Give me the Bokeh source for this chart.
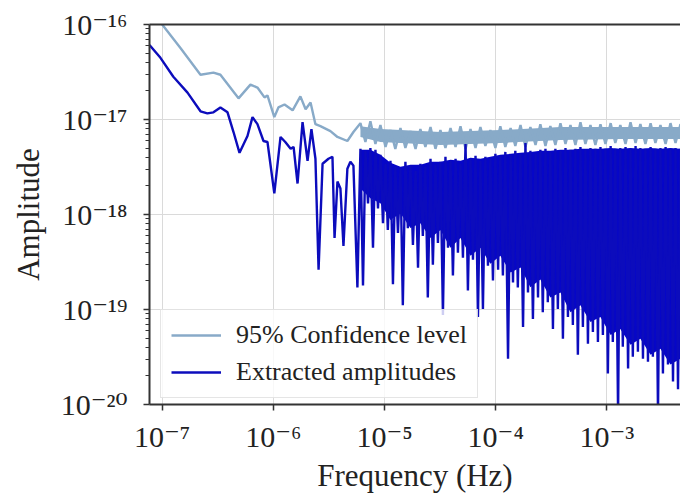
from bokeh.plotting import figure
from bokeh.models import Range1d, FixedTicker, LogAxis, CustomJSTickFormatter, Legend, LegendItem
from bokeh.embed import file_html
from bokeh.resources import INLINE

# ---------------- data ----------------
# 95% confidence level (Hz, amplitude)
CONF_FREQ = [7.69e-8, 1.0e-7, 1.46e-7, 2.21e-7, 2.89e-7, 3.34e-7, 4.86e-7, 6.22e-7, 7.19e-7, 8.32e-7,
             8.85e-7, 1.02e-6, 1.11e-6, 1.26e-6, 1.49e-6, 1.75e-6, 1.95e-6, 2.16e-6, 2.39e-6, 2.65e-6,
             3.26e-6, 3.77e-6, 4.63e-6, 5.25e-6,
             6.07e-6, 6.73e-6, 7.46e-6, 8.28e-6, 9.18e-6, 1.02e-5, 1.13e-5, 1.25e-5, 1.39e-5, 1.54e-5,
             1.71e-5, 1.90e-5, 2.10e-5, 2.33e-5, 2.59e-5, 2.87e-5, 3.18e-5, 3.53e-5, 3.92e-5, 4.35e-5,
             4.82e-5, 5.35e-5, 5.93e-5, 6.58e-5, 7.28e-5, 8.07e-5, 8.95e-5, 9.93e-5, 1.10e-4, 1.22e-4,
             1.36e-4, 1.50e-4, 1.67e-4, 1.85e-4, 2.05e-4, 2.28e-4, 2.52e-4, 2.80e-4, 3.10e-4, 3.44e-4,
             3.82e-4, 4.24e-4, 4.70e-4, 5.21e-4, 5.78e-4, 6.41e-4, 7.11e-4, 7.88e-4, 8.75e-4, 9.70e-4,
             1.08e-3, 1.19e-3, 1.32e-3, 1.47e-3, 1.63e-3, 1.81e-3, 2.00e-3, 2.22e-3, 2.47e-3, 2.73e-3,
             3.03e-3, 3.37e-3, 3.73e-3, 4.14e-3, 4.59e-3, 4.83e-3]
CONF_AMP = [1.50e-16, 1.0e-16, 5.66e-17, 2.96e-17, 3.11e-17, 2.96e-17, 1.67e-17, 2.33e-17, 2.17e-17, 1.71e-17,
            1.79e-17, 1.06e-17, 1.34e-17, 1.44e-17, 1.25e-17, 1.75e-17, 1.28e-17, 1.51e-17, 8.93e-18, 8.51e-18,
            7.55e-18, 6.55e-18, 5.94e-18, 7.38e-18,
            9.15e-18, 5.80e-18, 9.60e-18, 5.53e-18, 8.73e-18, 5.14e-18, 7.74e-18, 4.91e-18, 8.11e-18, 5.02e-18,
            7.55e-18, 4.91e-18, 7.93e-18, 5.14e-18, 8.32e-18, 4.91e-18, 7.74e-18, 5.02e-18, 8.11e-18, 5.14e-18,
            8.51e-18, 4.91e-18, 7.93e-18, 5.02e-18, 8.32e-18, 5.27e-18, 7.74e-18, 5.02e-18, 8.51e-18, 5.14e-18,
            8.11e-18, 5.27e-18, 8.73e-18, 5.14e-18, 8.32e-18, 5.40e-18, 8.93e-18, 5.27e-18, 8.51e-18, 5.40e-18,
            9.15e-18, 5.53e-18, 8.73e-18, 5.40e-18, 9.37e-18, 5.53e-18, 8.73e-18, 5.40e-18, 8.93e-18, 5.53e-18,
            9.15e-18, 5.66e-18, 8.73e-18, 5.53e-18, 9.37e-18, 5.66e-18, 8.93e-18, 5.53e-18, 9.15e-18, 5.66e-18,
            8.73e-18, 5.53e-18, 9.15e-18, 5.66e-18, 8.93e-18, 5.80e-18]
# dense part of the confidence band (lower / upper edge of the solid band)
CONF_BAND_FREQ = [6.07e-6, 9.18e-6, 3.18e-5, 1.10e-4, 3.82e-4, 1.32e-3, 4.83e-3]
CONF_BAND_LO = [6.55e-18, 5.80e-18, 5.40e-18, 5.66e-18, 6.09e-18, 6.24e-18, 6.24e-18]
CONF_BAND_HI = [8.51e-18, 7.93e-18, 7.38e-18, 7.74e-18, 8.32e-18, 8.32e-18, 8.32e-18]

# Extracted amplitudes (Hz, amplitude)
EXTR_FREQ = [7.69e-8, 9.65e-8, 1.26e-7, 1.69e-7, 2.21e-7, 2.55e-7, 2.89e-7, 3.34e-7, 3.87e-7, 4.38e-7,
             4.96e-7, 5.85e-7, 6.49e-7, 7.19e-7, 8.15e-7, 8.85e-7, 1.02e-6, 1.16e-6, 1.28e-6, 1.43e-6,
             1.52e-6, 1.65e-6, 1.83e-6, 2.03e-6, 2.20e-6, 2.39e-6, 2.55e-6, 2.77e-6, 3.13e-6, 3.40e-6,
             3.55e-6, 3.77e-6, 4.01e-6, 4.27e-6, 4.63e-6, 4.93e-6, 5.25e-6, 5.70e-6,
             6.07e-6, 6.40e-6, 6.73e-6, 7.10e-6, 7.46e-6, 7.87e-6, 8.28e-6, 8.73e-6, 9.18e-6, 9.68e-6,
             1.02e-5, 1.07e-5, 1.13e-5, 1.19e-5, 1.25e-5, 1.32e-5, 1.39e-5, 1.46e-5, 1.54e-5, 1.62e-5,
             1.71e-5, 1.80e-5, 1.90e-5, 2.00e-5, 2.10e-5, 2.21e-5, 2.33e-5, 2.45e-5, 2.59e-5, 2.72e-5,
             2.87e-5, 3.02e-5, 3.18e-5, 3.35e-5, 3.53e-5, 3.72e-5, 3.92e-5, 4.12e-5, 4.35e-5, 4.57e-5,
             4.82e-5, 5.07e-5, 5.35e-5, 5.62e-5, 5.93e-5, 6.24e-5, 6.58e-5, 6.92e-5, 7.28e-5, 7.67e-5,
             8.07e-5, 8.51e-5, 8.95e-5, 9.44e-5, 9.93e-5, 1.05e-4, 1.10e-4, 1.16e-4, 1.22e-4, 1.29e-4,
             1.36e-4, 1.43e-4, 1.50e-4, 1.58e-4, 1.67e-4, 1.76e-4, 1.85e-4, 1.95e-4, 2.05e-4, 2.16e-4,
             2.28e-4, 2.40e-4, 2.52e-4, 2.65e-4, 2.80e-4, 2.94e-4, 3.10e-4, 3.27e-4, 3.44e-4, 3.62e-4,
             3.82e-4, 4.02e-4, 4.24e-4, 4.46e-4, 4.70e-4, 4.94e-4, 5.21e-4, 5.48e-4, 5.78e-4, 6.08e-4,
             6.41e-4, 6.75e-4, 7.11e-4, 7.48e-4, 7.88e-4, 8.30e-4, 8.75e-4, 9.20e-4, 9.70e-4, 1.02e-3,
             1.08e-3, 1.13e-3, 1.19e-3, 1.26e-3, 1.32e-3, 1.39e-3, 1.47e-3, 1.55e-3, 1.63e-3, 1.71e-3,
             1.81e-3, 1.90e-3, 2.00e-3, 2.11e-3, 2.22e-3, 2.34e-3, 2.47e-3, 2.59e-3, 2.73e-3, 2.88e-3,
             3.03e-3, 3.19e-3, 3.37e-3, 3.54e-3, 3.73e-3, 3.93e-3, 4.14e-3, 4.36e-3, 4.59e-3, 4.83e-3]
EXTR_AMP = [6.08e-17, 4.46e-17, 2.82e-17, 1.92e-17, 1.22e-17, 1.16e-17, 1.19e-17, 1.34e-17, 1.19e-17, 7.38e-18,
            4.46e-18, 6.70e-18, 1.06e-17, 8.93e-18, 5.94e-18, 5.80e-18, 1.67e-18, 6.55e-18, 5.80e-18, 4.91e-18,
            5.14e-18, 2.12e-18, 9.37e-18, 3.68e-18, 7.93e-18, 3.86e-18, 2.63e-19, 3.42e-18, 3.86e-18, 4.05e-18,
            5.66e-19, 2.22e-18, 1.88e-18, 4.68e-19, 3.03e-18, 3.59e-18, 3.27e-18, 1.71e-19,
            4.91e-18, 1.79e-19, 4.68e-18, 1.31e-18, 5.02e-18, 4.46e-19, 4.79e-18, 1.16e-18, 4.25e-18, 8.11e-19,
            3.42e-18, 6.86e-19, 3.68e-18, 1.84e-19, 3.18e-18, 6.38e-19, 3.03e-18, 1.11e-19, 3.59e-18, 7.19e-19,
            3.27e-18, 4.79e-19, 2.89e-18, 2.76e-19, 3.42e-18, 5.94e-19, 3.18e-18, 1.34e-19, 3.86e-18, 2.96e-19,
            3.34e-18, 5.02e-19, 3.59e-18, 8.73e-20, 4.05e-18, 4.46e-19, 3.68e-18, 2.28e-19, 3.86e-18, 3.95e-19,
            3.42e-18, 3.51e-19, 5.53e-18, 1.59e-19, 3.86e-18, 3.34e-19, 4.15e-18, 8.32e-20, 3.68e-18, 1.01e-19,
            4.05e-18, 2.89e-19, 3.86e-18, 2.02e-19, 4.35e-18, 2.63e-19, 4.15e-18, 2.28e-19, 4.56e-18, 3.03e-20,
            4.25e-18, 1.92e-19, 4.68e-18, 1.71e-19, 4.35e-18, 6.55e-20, 5.66e-18, 1.51e-19, 4.68e-18, 7.93e-20,
            4.35e-18, 1.34e-19, 4.79e-18, 9.37e-20, 4.91e-18, 1.19e-19, 4.56e-18, 6.24e-20, 4.91e-18, 1.01e-19,
            4.68e-18, 4.91e-20, 5.02e-18, 8.32e-20, 4.79e-18, 6.86e-20, 4.91e-18, 3.34e-20, 5.14e-18, 6.55e-20,
            4.79e-18, 4.35e-20, 5.02e-18, 5.81e-20, 4.91e-18, 4.56e-20, 5.14e-18, 5.40e-20, 4.91e-18, 2.12e-20,
            5.27e-18, 4.56e-20, 4.91e-18, 8.0e-21, 5.02e-18, 4.05e-20, 5.14e-18, 2.39e-20, 4.91e-18, 3.18e-20,
            5.27e-18, 3.59e-20, 5.02e-18, 3.03e-20, 4.91e-18, 2.82e-20, 5.14e-18, 3.18e-20, 4.91e-18, 8.0e-21,
            5.02e-18, 2.12e-20, 5.14e-18, 2.63e-20, 4.91e-18, 1.75e-20, 5.02e-18, 1.45e-20, 4.91e-18, 2.51e-20]
# solid core of the dense extracted spectrum (lower / upper edge)
EXTR_CORE_FREQ = [6.07e-6, 7.46e-6, 9.18e-6, 1.13e-5, 1.39e-5, 1.71e-5, 2.10e-5, 2.59e-5, 3.18e-5, 3.92e-5,
                  4.82e-5, 5.93e-5, 7.28e-5, 8.95e-5, 1.10e-4, 1.36e-4, 1.67e-4, 2.05e-4, 2.52e-4, 3.10e-4,
                  3.82e-4, 4.70e-4, 5.78e-4, 7.11e-4, 8.75e-4, 1.08e-3, 1.32e-3, 1.63e-3, 2.00e-3, 2.47e-3,
                  3.03e-3, 3.73e-3, 4.59e-3, 4.83e-3]
EXTR_CORE_LO = [1.88e-18, 1.48e-18, 1.31e-18, 8.73e-19, 1.03e-18, 7.19e-19, 8.11e-19, 5.66e-19, 6.86e-19, 4.46e-19,
                5.66e-19, 3.68e-19, 4.46e-19, 3.03e-19, 3.68e-19, 2.45e-19, 2.76e-19, 1.71e-19, 2.07e-19, 1.34e-19,
                1.51e-19, 9.37e-20, 1.11e-19, 7.38e-20, 8.32e-20, 5.40e-20, 6.24e-20, 4.25e-20, 4.91e-20, 3.34e-20,
                3.86e-20, 2.63e-20, 3.03e-20, 2.82e-20]
EXTR_CORE_HI = [4.79e-18, 4.79e-18, 4.25e-18, 3.51e-18, 3.18e-18, 3.34e-18, 3.34e-18, 3.59e-18, 3.59e-18, 3.77e-18,
                3.68e-18, 3.95e-18, 3.86e-18, 4.05e-18, 4.25e-18, 4.35e-18, 4.46e-18, 4.56e-18, 4.68e-18, 4.68e-18,
                4.79e-18, 4.79e-18, 4.91e-18, 4.91e-18, 4.91e-18, 5.02e-18, 4.91e-18, 5.02e-18, 4.91e-18, 5.02e-18,
                4.91e-18, 5.02e-18, 4.91e-18, 4.91e-18]

X_TICKS = [1e-7, 1e-6, 1e-5, 1e-4, 1e-3]
Y_TICKS = [1e-20, 1e-19, 1e-18, 1e-17, 1e-16]
Y_MINOR = [m * d for d in [1e-20, 1e-19, 1e-18, 1e-17] for m in [2, 3, 4, 5, 6, 7, 8, 9]]

# ---------------- styling ----------------
FONT = "'Liberation Serif', 'DejaVu Serif', serif"
CONF_COLOR = "#88aac8"
EXTR_COLOR = "#0c0cbc"
EXTR_FILL = "#0606c8"
SPINE = "#333333"

p = figure(width=680, height=495, x_axis_type="log", y_axis_type="log",
           x_range=Range1d(7.69e-8, 4.59e-3), y_range=Range1d(1e-20, 1e-16),
           output_backend="svg", toolbar_location=None,
           min_border_left=149, min_border_right=0, min_border_top=24, min_border_bottom=87)
p.outline_line_color = None
p.background_fill_color = "white"
p.border_fill_color = "white"

sup = CustomJSTickFormatter(code="""
const e = Math.round(Math.log10(tick));
const m = {"-": "\u207b", "0": "\u2070", "1": "\u00b9", "2": "\u00b2", "3": "\u00b3", "4": "\u2074",
           "5": "\u2075", "6": "\u2076", "7": "\u2077", "8": "\u2078", "9": "\u2079"};
return "10" + String(e).split("").map(c => m[c]).join("");
""")

xt = FixedTicker(ticks=X_TICKS, minor_ticks=[])
yt = FixedTicker(ticks=Y_TICKS, minor_ticks=Y_MINOR)

for ax, t in ((p.xaxis[0], xt), (p.yaxis[0], yt)):
    ax.ticker = t
    ax.formatter = sup
    ax.axis_line_width = 2
    ax.axis_line_color = SPINE
    ax.major_tick_line_color = SPINE
    ax.major_tick_line_width = 1.5
    ax.major_tick_out = 6
    ax.major_tick_in = 0
    ax.minor_tick_line_color = SPINE
    ax.minor_tick_line_width = 1
    ax.minor_tick_in = 0
    ax.major_label_text_font = FONT
    ax.major_label_text_font_size = "30px"
    ax.major_label_text_color = "#222222"
    ax.axis_label_text_font = FONT
    ax.axis_label_text_font_size = "31px"
    ax.axis_label_text_font_style = "normal"
    ax.axis_label_text_color = "#222222"

p.xaxis.minor_tick_out = 0
p.yaxis.minor_tick_out = 4
p.xaxis.axis_label = "Frequency (Hz)"
p.yaxis.axis_label = "Amplitude"
p.xaxis.major_label_standoff = 9
p.xaxis.axis_label_standoff = 2
p.yaxis.major_label_standoff = 16
p.yaxis.axis_label_standoff = 12

top = LogAxis(ticker=FixedTicker(ticks=[], minor_ticks=[]), major_label_text_font_size="0px",
              major_tick_out=0, minor_tick_out=0, major_label_standoff=0,
              axis_line_width=2, axis_line_color=SPINE)
p.add_layout(top, "above")

p.xgrid.ticker = xt
p.ygrid.ticker = yt
p.grid.grid_line_color = "#dadada"
p.grid.grid_line_width = 1

p.varea(x=CONF_BAND_FREQ, y1=CONF_BAND_LO, y2=CONF_BAND_HI, fill_color=CONF_COLOR)
conf = p.line(CONF_FREQ, CONF_AMP, line_color=CONF_COLOR, line_width=2.4)
p.varea(x=EXTR_CORE_FREQ, y1=EXTR_CORE_LO, y2=EXTR_CORE_HI, fill_color=EXTR_FILL)
extr = p.line(EXTR_FREQ, EXTR_AMP, line_color=EXTR_COLOR, line_width=2.4)

legend = Legend(items=[LegendItem(label="95% Confidence level", renderers=[conf]),
                       LegendItem(label="Extracted amplitudes", renderers=[extr])],
                location=(11, 6),
                label_text_font=FONT, label_text_font_size="26px", label_text_color="#222222",
                glyph_width=50, glyph_height=26, label_height=26, label_standoff=15,
                spacing=7, padding=10, margin=0,
                border_line_color="#cccccc", border_line_width=1, background_fill_alpha=0.8)
p.add_layout(legend)

open("out.html", "w").write(file_html(p, INLINE))
